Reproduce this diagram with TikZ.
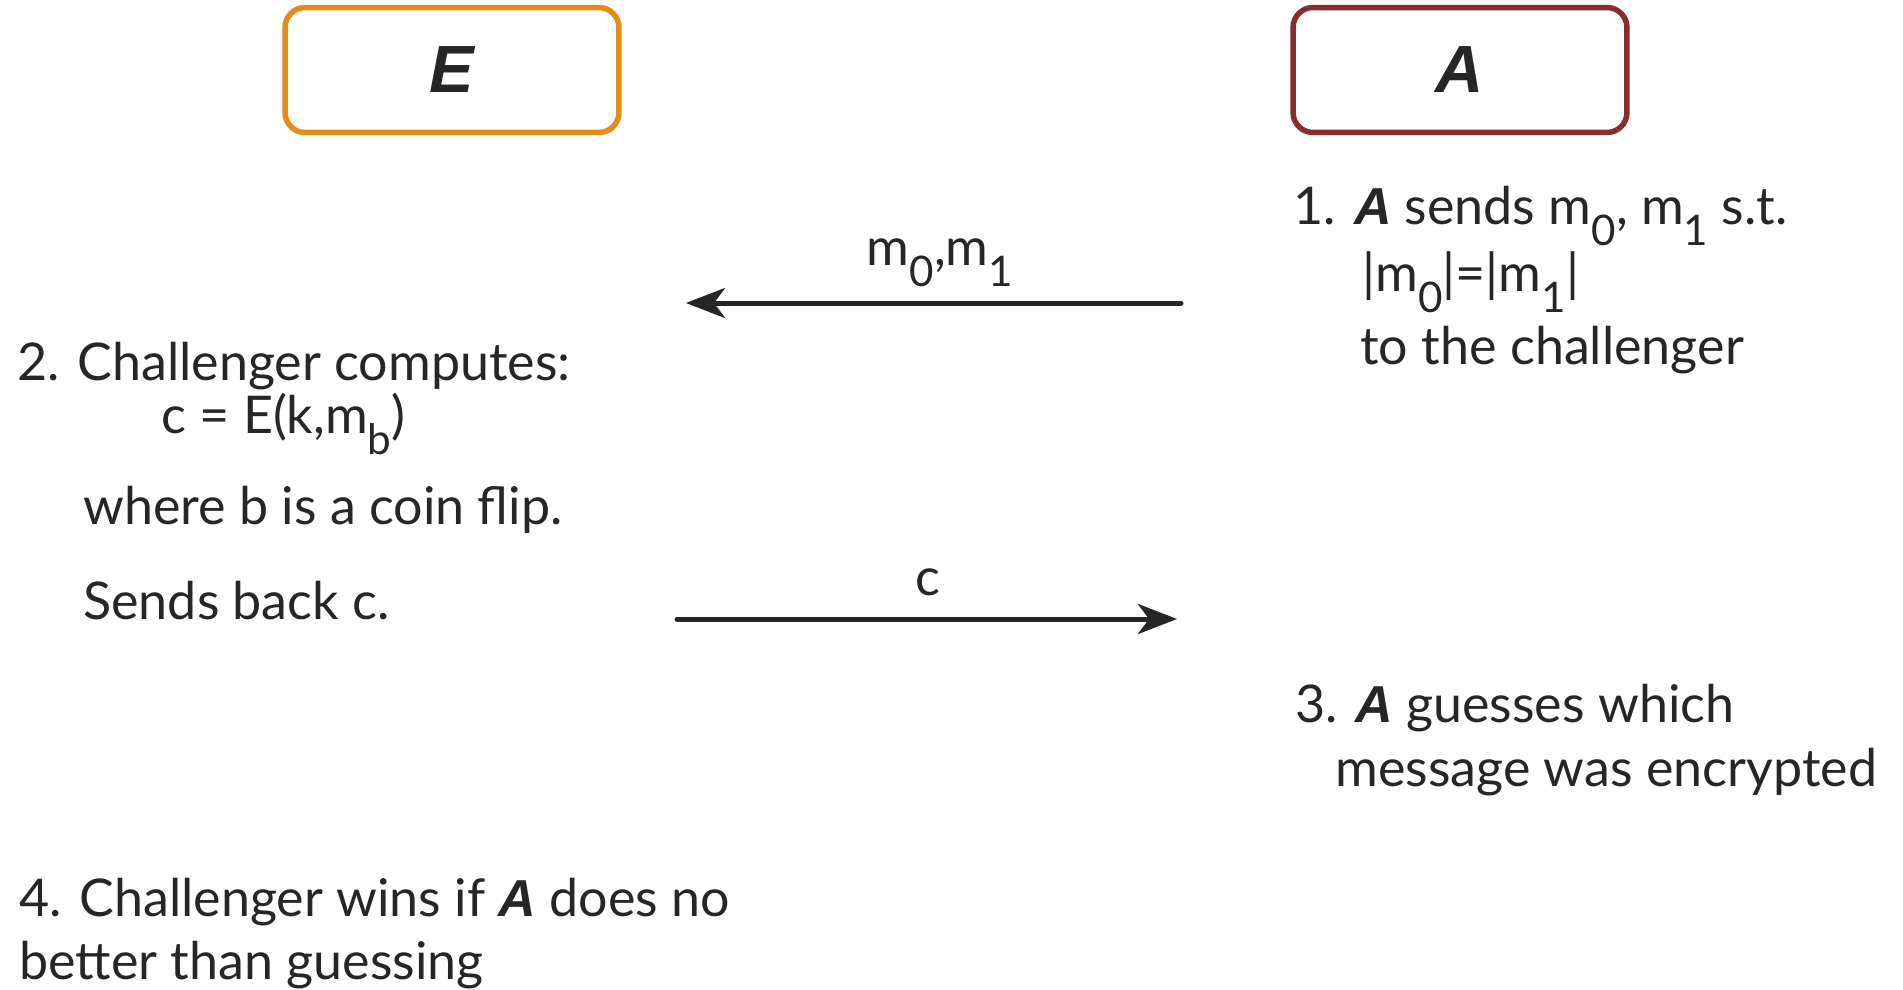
\documentclass[tikz,border=0pt]{standalone}
\usepackage{fontspec}
\setmainfont{Lato}
\newfontfamily\boxfont{Liberation Sans}
\usetikzlibrary{arrows.meta,positioning}
\definecolor{ecorange}{RGB}{229,140,23}
\definecolor{advred}{RGB}{139,44,44}
\definecolor{inkgray}{RGB}{38,38,38}
\newcommand{\advA}{{\boxfont\bfseries\itshape A}}
\newcommand{\low}[1]{\raisebox{-.42em}{\fontsize{24}{24}\selectfont #1}}
\tikzset{
  party/.style={draw,rounded corners=.4cm,line width=.11cm,minimum width=6.68cm,
    minimum height=2.5cm,font=\boxfont\fontsize{38}{40}\selectfont\bfseries\itshape},
  msg/.style={draw=inkgray,line width=.1cm,line cap=round,
    -{Stealth[length=.78cm,width=.6cm,inset=.22cm]}},
  txt/.style={anchor=base west,inner sep=0pt},
  lbl/.style={anchor=base,inner sep=0pt}
}
\begin{document}
\begin{tikzpicture}[x=.02cm,y=-.02cm,font=\fontsize{29.6}{34}\selectfont,text=inkgray]
  \useasboundingbox (0,0) rectangle (1903,990);
  % the two parties
  \node[party,draw=ecorange] (chal) at (452,70) {E};
  \node[party,draw=advred] (adv) at (1460,70) {A};
  % steps
  \node[txt] (s1a) at (1293,224) {1.\hspace{.35em}\advA\ sends m\low{0}, m\low{1} s.t.};
  \node[txt] (s1b) at (1362,291) {|m\low{0}|=|m\low{1}|};
  \node[txt] (s1c) at (1360,364) {to the challenger};
  \node[txt] (s2a) at (17,380) {2. Challenger computes:};
  \node[txt] (s2b) at (161,433) {c = E(k,m\low{b})};
  \node[txt] (s2c) at (83,524) {where b is a coin flip.};
  \node[txt] (s2d) at (83,619) {Sends back c.};
  \node[txt] (s3a) at (1295,722) {3. \advA\ guesses which};
  \node[txt] (s3b) at (1335,786) {message was encrypted};
  \node[txt] (s4a) at (19,916) {4. Challenger wins if \advA\ does no};
  \node[txt] (s4b) at (19,979) {better than guessing};
  % messages
  \coordinate (pairout) at (1181,303); \coordinate (pairin) at (686,303);
  \coordinate (ctout) at (677,619); \coordinate (ctin) at (1177,619);
  \draw[msg] (pairout) -- (pairin);
  \draw[msg] (ctout) -- (ctin);
  \node[lbl] (pairlbl) at (940,265) {m\low{0},m\low{1}};
  \node[lbl] (ctlbl) at (928,595) {c};
\end{tikzpicture}
\end{document}
